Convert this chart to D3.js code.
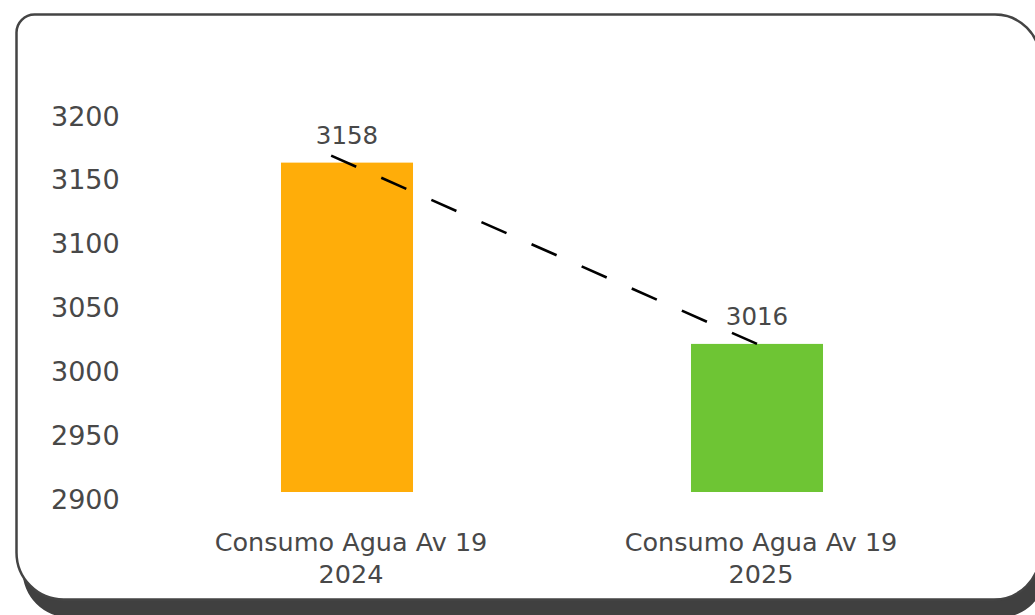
<!DOCTYPE html>
<html>
<head>
<meta charset="utf-8">
<script src="https://cdn.jsdelivr.net/npm/d3@7"></script>
<style>
  html, body { margin: 0; padding: 0; background: #ffffff; }
  svg { display: block; }
  text { font-family: "DejaVu Sans", "Noto Sans", sans-serif; fill: #484848; }
</style>
</head>
<body>
<svg id="chart" width="1035" height="615"></svg>
<script>
// Water consumption, Av 19: 2024 vs 2025
const categories = ["Consumo Agua Av 19\n2024", "Consumo Agua Av 19\n2025"];
const values = [3158, 3016];
const barColors = ["#FFAD09", "#6EC534"];
const yTicks = [2900, 2950, 3000, 3050, 3100, 3150, 3200];

const svg = d3.select("#chart");

// Card with a solid drop shadow underneath
function cardPath(x0, y0, x1, y1, rTL, rTR, rBR, rBL) {
  const p = d3.path();
  p.moveTo(x0 + rTL, y0);
  p.lineTo(x1 - rTR, y0);
  p.arcTo(x1, y0, x1, y0 + rTR, rTR);
  p.lineTo(x1, y1 - rBR);
  p.arcTo(x1, y1, x1 - rBR, y1, rBR);
  p.lineTo(x0 + rBL, y1);
  p.arcTo(x0, y1, x0, y1 - rBL, rBL);
  p.lineTo(x0, y0 + rTL);
  p.arcTo(x0, y0, x0 + rTL, y0, rTL);
  p.closePath();
  return p.toString();
}
const card = { x0: 16.5, y0: 14.5, x1: 1040, y1: 599.5 };
svg.append("path")
  .attr("d", cardPath(card.x0 + 6, card.y0 + 18, card.x1 + 6, card.y1 + 18, 18, 45, 46, 47))
  .attr("fill", "#404040");
svg.append("path")
  .attr("d", cardPath(card.x0, card.y0, card.x1, card.y1, 18, 45, 46, 47))
  .attr("fill", "#ffffff")
  .attr("stroke", "#444444")
  .attr("stroke-width", 2.5);

// Scales
const y = d3.scaleLinear().domain([2900, 3200]).range([492, 109]);
const x = d3.scaleBand().domain(categories).range([142, 962])
  .paddingInner(0.678).paddingOuter(0.339);

// Value axis: labels only, left aligned
const yAxis = svg.append("g")
  .attr("transform", "translate(51,0)")
  .call(d3.axisLeft(y).tickValues(yTicks).tickSize(0).tickFormat(d3.format("d")));
yAxis.select(".domain").remove();
yAxis.selectAll("text")
  .attr("x", 0)
  .attr("dy", 16)
  .attr("text-anchor", "start")
  .style("font-family", "'DejaVu Sans', sans-serif")
  .style("font-size", "27px")
  .style("fill", "#484848");

// Category axis: two-line labels
const xAxis = svg.append("g")
  .attr("transform", `translate(4,${y(2900)})`)
  .call(d3.axisBottom(x).tickSize(0).tickFormat(""));
xAxis.select(".domain").remove();
xAxis.selectAll(".tick text").each(function (d) {
  const t = d3.select(this)
    .attr("y", 0).attr("dy", null)
    .attr("text-anchor", "middle")
    .style("font-family", "'DejaVu Sans', sans-serif")
    .style("font-size", "25.5px")
    .style("fill", "#484848");
  d.split("\n").forEach((line, i) => {
    t.append("tspan").attr("x", 0).attr("y", 59 + i * 32).text(line);
  });
});

// Bars
const data = categories.map((c, i) => ({ cat: c, value: values[i], color: barColors[i] }));
svg.append("g").selectAll("rect")
  .data(data)
  .join("rect")
  .attr("x", d => x(d.cat))
  .attr("width", x.bandwidth())
  .attr("y", d => y(d.value))
  .attr("height", d => y(2900) - y(d.value))
  .attr("fill", d => d.color);

// Value labels above bars
svg.append("g").selectAll("text")
  .data(data)
  .join("text")
  .attr("x", d => x(d.cat) + x.bandwidth() / 2)
  .attr("y", d => y(d.value) - 19)
  .attr("text-anchor", "middle")
  .style("font-size", "24.5px")
  .text(d => d.value);

// Linear trend between the two years, dashed (nine dashes, ending on the 2025 column)
const cx = d => x(d) + x.bandwidth() / 2;
const slope = (values[1] - values[0]) / (cx(categories[1]) - cx(categories[0]));
const trendAt = px => values[0] + slope * (px - cx(categories[0]));
const tx0 = x(categories[0]) + x.bandwidth() * 0.38;
const tx1 = cx(categories[1]);
svg.append("line")
  .attr("x1", tx0).attr("y1", y(trendAt(tx0)))
  .attr("x2", tx1).attr("y2", y(trendAt(tx1)))
  .attr("pathLength", 17)
  .attr("stroke", "#000000")
  .attr("stroke-width", 2.6)
  .attr("stroke-dasharray", "1,1");
</script>
</body>
</html>
